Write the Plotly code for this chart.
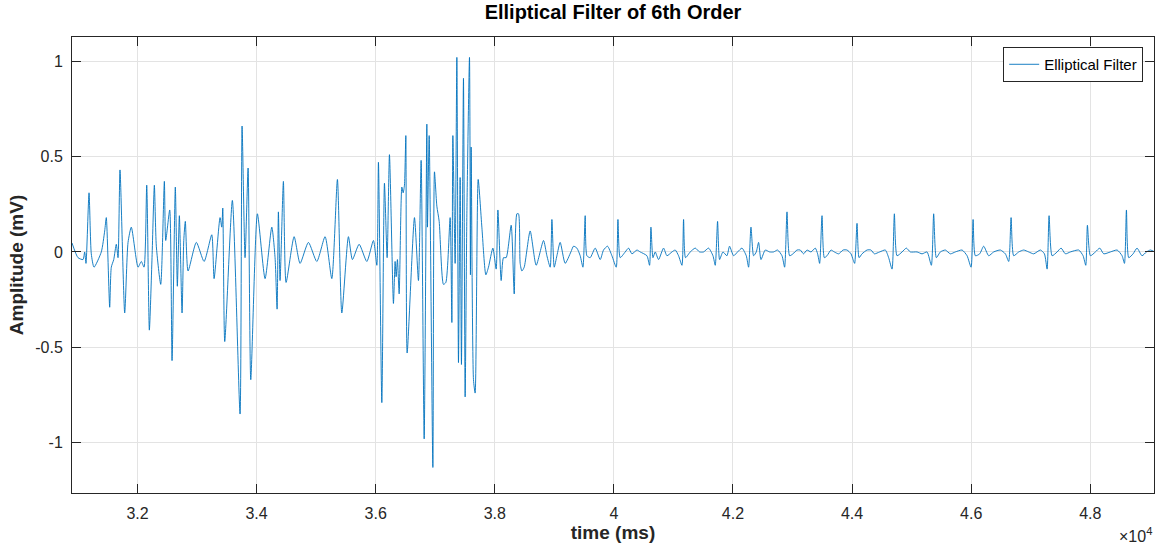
import plotly.graph_objects as go

# time (ms) and amplitude (mV)
time_ms = [
    30900, 31001, 31085, 31113, 31135, 31186, 31224, 31270, 31392, 31449,
    31476, 31533, 31560, 31601, 31644, 31673, 31706, 31785, 31841, 31896,
    32009, 32064, 32110, 32155, 32199, 32244, 32283, 32316, 32390, 32451,
    32474, 32541, 32580, 32635, 32669, 32703, 32748, 32777, 32803, 32849,
    32988, 33118, 33247, 33286, 33386, 33415, 33432, 33465, 33593, 33722,
    33756, 33806, 33857, 33902, 34013, 34142, 34255, 34310, 34344, 34366,
    34394, 34450, 34495, 34630, 34730, 34870, 35011, 35150, 35263, 35357,
    35431, 35542, 35609, 35722, 35851, 35962, 36019, 36046, 36103, 36147,
    36192, 36231, 36298, 36326, 36343, 36365, 36394, 36439, 36461, 36483,
    36506, 36528, 36651, 36718, 36763, 36814, 36859, 36869, 36898, 36960,
    36987, 37027, 37066, 37138, 37178, 37250, 37279, 37296, 37334, 37363,
    37390, 37418, 37440, 37474, 37502, 37531, 37575, 37591, 37603, 37642,
    37670, 37721, 37783, 37850, 37894, 37968, 38023, 38052, 38107, 38146,
    38191, 38275, 38326, 38371, 38398, 38426, 38455, 38494, 38594, 38695,
    38818, 38875, 38930, 38959, 38998, 39043, 39098, 39182, 39278, 39322,
    39379, 39434, 39480, 39518, 39547, 39602, 39686, 39770, 39826, 39893,
    39967, 40039, 40068, 40106, 40190, 40246, 40303, 40387, 40442, 40555,
    40599, 40622, 40656, 40694, 40750, 40834, 40891, 40975, 41030, 41086,
    41143, 41170, 41203, 41282, 41366, 41439, 41506, 41590, 41664, 41702,
    41741, 41775, 41831, 41898, 41942, 42010, 42077, 42151, 42223, 42262,
    42302, 42346, 42391, 42430, 42470, 42542, 42615, 42682, 42749, 42823,
    42867, 42907, 42951, 43007, 43075, 43130, 43185, 43243, 43310, 43382,
    43421, 43455, 43495, 43534, 43579, 43646, 43702, 43774, 43848, 43915,
    43982, 44016, 44043, 44083, 44117, 44167, 44251, 44318, 44374, 44463,
    44558, 44614, 44671, 44710, 44755, 44839, 44911, 44978, 45091, 45175,
    45259, 45331, 45370, 45415, 45482, 45566, 45650, 45734, 45847, 45931,
    45998, 46032, 46070, 46143, 46210, 46294, 46378, 46490, 46574, 46630,
    46670, 46714, 46798, 46882, 46966, 47050, 47162, 47230, 47275, 47308,
    47359, 47443, 47510, 47582, 47666, 47806, 47879, 47924, 47952, 48002,
    48086, 48159, 48226, 48338, 48451, 48534, 48574, 48607, 48646, 48719,
    48785, 48869, 48943, 49010, 49083,
]
amplitude_mv = [
    0.047, -0.03, -0.04, 0.0, -0.06, 0.31, -0.01, -0.08, 0.0, 0.11,
    0.18, -0.29, -0.08, -0.04, 0.04, -0.03, 0.43, -0.32, 0.05, 0.13,
    -0.08, -0.05, -0.08, 0.35, -0.41, -0.03, 0.35, 0.03, -0.17, 0.37,
    0.06, 0.22, -0.57, 0.34, -0.18, 0.19, -0.32, 0.06, 0.16, -0.10,
    0.05, -0.05, 0.09, -0.14, 0.18, 0.13, 0.23, -0.47, 0.27, -0.85,
    0.66, -0.03, 0.44, -0.67, 0.20, -0.14, 0.13, -0.03, -0.30, 0.21,
    -0.15, 0.37, -0.16, 0.08, -0.06, 0.05, -0.05, 0.08, -0.14, 0.38,
    -0.32, 0.08, -0.04, 0.04, -0.05, 0.06, -0.07, 0.47, -0.79, 0.36,
    -0.03, 0.51, -0.27, -0.05, -0.13, -0.04, -0.22, 0.34, 0.31, 0.35,
    0.61, -0.53, 0.18, -0.15, 0.48, -0.98, 0.67, 0.13, 0.61, -1.13,
    0.42, 0.24, 0.16, -0.17, -0.16, 0.18, -0.37, 0.61, -0.06, 1.02,
    -0.58, 0.39, -0.59, 0.91, -0.76, 0.20, 1.02, -0.12, 0.55, -0.67,
    -0.74, 0.38, 0.13, -0.12, -0.08, 0.02, -0.09, 0.22, -0.15, -0.03,
    -0.03, 0.14, -0.22, 0.20, 0.20, -0.06, -0.10, -0.08, 0.11, -0.07,
    0.06, -0.02, -0.08, 0.17, -0.08, -0.02, 0.05, -0.06, 0.0, 0.03,
    0.02, -0.02, -0.08, 0.19, -0.02, -0.03, 0.02, -0.04, 0.01, 0.03,
    -0.02, -0.08, 0.17, -0.03, 0.0, 0.02, -0.01, 0.01, 0.0, -0.02,
    -0.07, 0.13, -0.03, 0.0, -0.04, 0.02, -0.02, 0.0, 0.01, -0.02,
    -0.07, 0.17, -0.03, 0.0, 0.02, 0.0, 0.0, 0.02, -0.02, -0.07,
    0.16, -0.04, 0.0, -0.02, 0.03, -0.02, 0.0, 0.02, -0.02, -0.08,
    0.13, -0.02, 0.0, 0.05, -0.04, 0.01, 0.0, 0.0, 0.01, -0.02,
    -0.08, 0.21, -0.02, -0.01, 0.01, 0.01, -0.01, 0.01, 0.0, 0.02,
    -0.01, -0.06, 0.19, -0.03, -0.02, 0.01, 0.0, -0.01, 0.01, 0.01,
    -0.01, -0.04, -0.06, 0.15, -0.03, -0.01, 0.01, 0.01, -0.01, 0.0,
    0.01, -0.03, -0.09, 0.20, -0.02, 0.0, 0.02, 0.0, 0.0, -0.01,
    0.0, -0.07, 0.20, -0.03, 0.0, 0.01, -0.01, 0.0, 0.01, -0.02,
    -0.08, 0.17, -0.02, -0.01, 0.03, -0.02, 0.0, 0.01, -0.01, -0.05,
    0.18, -0.02, 0.0, 0.01, 0.0, -0.01, 0.01, -0.01, -0.09, 0.19,
    -0.02, 0.0, 0.02, -0.01, 0.0, 0.01, -0.02, -0.07, 0.14, -0.02,
    0.0, 0.02, -0.01, 0.0, 0.01, -0.02, -0.06, 0.22, -0.03, -0.01,
    0.02, -0.02, 0.0, 0.01, 0.0,
]

x_tick_vals = [32000, 34000, 36000, 38000, 40000, 42000, 44000, 46000, 48000]
x_tick_text = ["3.2", "3.4", "3.6", "3.8", "4", "4.2", "4.4", "4.6", "4.8"]
y_tick_vals = [-1, -0.5, 0, 0.5, 1]
y_tick_text = ["-1", "-0.5", "0", "0.5", "1"]

FONT = "Liberation Sans, Arial, Helvetica, sans-serif"
AXC = "#262626"
GRID = "#e3e3e3"

fig = go.Figure()
fig.add_trace(go.Scatter(
    x=time_ms, y=amplitude_mv, mode="lines", name="Elliptical Filter",
    line=dict(color="#0072BD", width=0.9, shape="spline", smoothing=0.6),
))

fig.update_layout(
    width=1159, height=545,
    margin=dict(l=72, r=5, t=37, b=52, autoexpand=False),
    paper_bgcolor="white", plot_bgcolor="white",
    font=dict(family=FONT, color=AXC, size=15),
    title=dict(text="<b>Elliptical Filter of 6th Order</b>", x=(72 + 1154) / 2 / 1159,
               xanchor="center", y=1 - 12 / 545, yanchor="middle",
               font=dict(size=20, color="black", family=FONT)),
    showlegend=True,
    legend=dict(x=0.99, xanchor="right", y=0.978, yanchor="top",
                bgcolor="white", bordercolor="#262626", borderwidth=1,
                font=dict(size=15, color="black", family=FONT),
                itemwidth=30, tracegroupgap=0),
    xaxis=dict(
        range=[30900, 49070], tickvals=x_tick_vals, ticktext=x_tick_text,
        showgrid=True, gridcolor=GRID, gridwidth=1,
        showline=True, linecolor=AXC, linewidth=1, mirror="allticks",
        ticks="inside", ticklen=9, tickcolor=AXC, zeroline=False,
        tickfont=dict(size=16, color=AXC), ticklabelstandoff=6,
        title=dict(text="<b>time (ms)</b>", font=dict(size=19, color=AXC), standoff=4),
    ),
    yaxis=dict(
        range=[-1.264, 1.127], tickvals=y_tick_vals, ticktext=y_tick_text,
        showgrid=True, gridcolor=GRID, gridwidth=1,
        showline=True, linecolor=AXC, linewidth=1, mirror="allticks",
        ticks="inside", ticklen=9, tickcolor=AXC, zeroline=False,
        tickfont=dict(size=16, color=AXC), ticklabelstandoff=5,
        title=dict(text="<b>Amplitude (mV)</b>", font=dict(size=19, color=AXC), standoff=6),
    ),
)

fig.add_annotation(text="×10<sup>4</sup>", xref="paper", yref="paper",
                   x=1.0, y=-0.118, xanchor="right", yanchor="bottom", showarrow=False,
                   font=dict(size=16, color=AXC, family=FONT))

fig.write_html(
    "out.html",
    config={"displayModeBar": False},
    post_script="document.body.style.margin='0';document.body.style.padding='0';",
)
